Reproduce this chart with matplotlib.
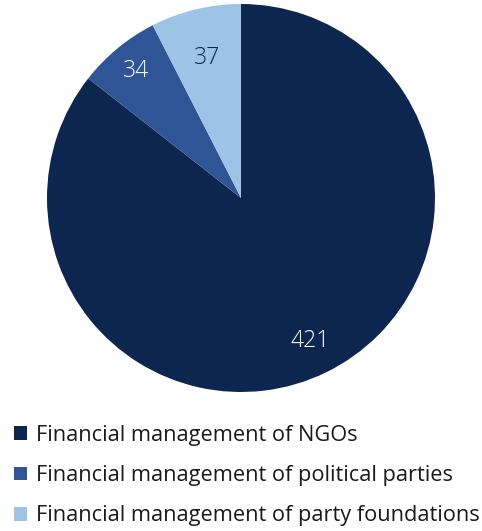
import matplotlib.pyplot as plt
import numpy as np

categories = ["Financial management of NGOs",
              "Financial management of political parties",
              "Financial management of party foundations"]
values = [421, 34, 37]
colors = ["#0C2650", "#2F5597", "#9DC3E6"]
label_colors = ["white", "white", "#0C2650"]
label_dist = [0.82, 0.85, 0.74]

plt.rcParams['font.family'] = ['Open Sans', 'DejaVu Sans']

W, H = 482, 531
fig = plt.figure(figsize=(W/100, H/100), dpi=100)
cx, cy, r = 241, 198, 194
ax = fig.add_axes([(cx-r)/W, (H-cy-r)/H, 2*r/W, 2*r/H])
wedges, _ = ax.pie(values, colors=colors, startangle=90, counterclock=False,
                   radius=1, wedgeprops=dict(linewidth=0))
ax.set_xlim(-1, 1)
ax.set_ylim(-1, 1)
ax.set_aspect('equal')
ax.axis('off')
for w, v, c, d in zip(wedges, values, label_colors, label_dist):
    ang = np.deg2rad((w.theta1 + w.theta2) / 2)
    ax.text(d*np.cos(ang), d*np.sin(ang), str(v), color=c, fontsize=16.5,
            ha='center', va='center', fontweight='light')

from matplotlib.patches import Patch
handles = [Patch(facecolor=c, edgecolor='none') for c in colors]
leg = fig.legend(handles, categories, loc='upper left',
                 bbox_to_anchor=(2/W, (H-413)/H), frameon=False,
                 fontsize=15.7, handlelength=0.6, handleheight=0.6,
                 handletextpad=0.4, labelspacing=0.88, borderaxespad=0.15)
for t in leg.get_texts():
    t.set_color('#1a1a1a')
fig.savefig('out.png', dpi=100)
